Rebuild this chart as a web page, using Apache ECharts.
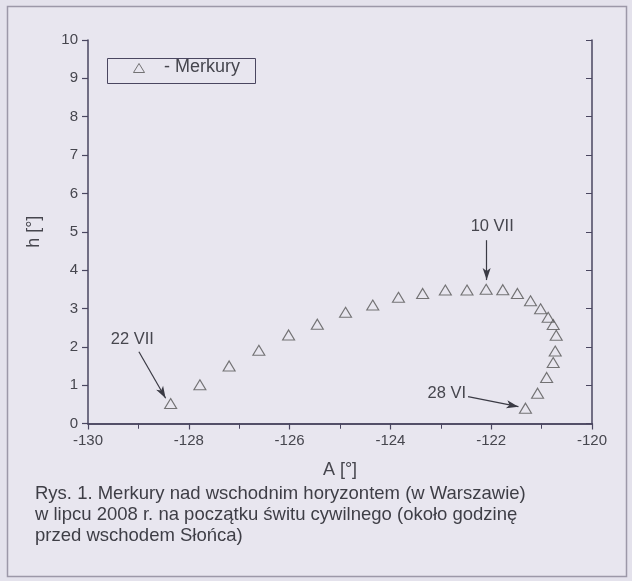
<!DOCTYPE html>
<html>
<head>
<meta charset="utf-8">
<script src="https://cdn.jsdelivr.net/npm/echarts@6/dist/echarts.min.js"></script>
<style>
  html, body { margin: 0; padding: 0; background: #e4e2ec; }
  #chart { width: 632px; height: 581px; }
</style>
</head>
<body>
<div id="chart"></div>
<script>
// Merkury, 28 VI .. 22 VII 2008 (azimuth A, altitude h in degrees)
const azimuth = [-121.32, -121.08, -120.90, -120.77, -120.73, -120.71, -120.77, -120.87, -121.02, -121.22,
    -121.48, -121.77, -122.10, -122.48, -122.91, -123.36, -123.84, -124.35, -124.89, -125.45,
    -126.02, -126.61, -127.20, -127.78, -128.36];
const altitude = [0.40, 0.79, 1.20, 1.59, 1.89, 2.30, 2.58, 2.77, 2.99, 3.20,
    3.39, 3.49, 3.50, 3.48, 3.48, 3.39, 3.29, 3.09, 2.90, 2.59,
    2.31, 1.91, 1.50, 1.01, 0.52];

const xTicks = [-130, -128, -126, -124, -122, -120];
const yTicks = [0, 1, 2, 3, 4, 5, 6, 7, 8, 9, 10];

// date labels and arrows (data coordinates)
const notes = [
    { text: '10 VII', label: [-121.98, 5.13], from: [-122.09, 4.78], to: [-122.09, 3.74] },
    { text: '28 VI', label: [-122.88, 0.78], from: [-122.46, 0.70], to: [-121.46, 0.44] },
    { text: '22 VII', label: [-129.12, 2.18], from: [-128.99, 1.87], to: [-128.46, 0.66] },
];

const axisColor = '#4a4660';
const textColor = '#46464e';
const font = 'Liberation Sans, Arial, sans-serif';

const chart = echarts.init(document.getElementById('chart'));

const points = azimuth.map((a, i) => [a, altitude[i]]);

const option = {
    backgroundColor: '#e4e2ec',
    animation: false,
    textStyle: { fontFamily: font },
    grid: { left: 88, right: 40, top: 40, bottom: 157.5 },
    graphic: [
        {
            type: 'rect', silent: true, z: -10,
            shape: { x: 7.5, y: 6.5, width: 619, height: 570 },
            style: { fill: '#e8e6ef', stroke: '#9c98a8', lineWidth: 1.5 }
        },
        {
            type: 'text', left: 35, top: 484,
            style: {
                text: 'Rys. 1. Merkury nad wschodnim horyzontem (w Warszawie)\n' +
                    'w lipcu 2008 r. na początku świtu cywilnego (około godzinę\n' +
                    'przed wschodem Słońca)',
                font: '18.5px ' + font, fill: '#3e3e46', lineHeight: 20.7
            }
        },
        {
            type: 'rect', left: 105, top: 56, silent: true,
            shape: { width: 148, height: 25 },
            style: { fill: 'none', stroke: axisColor, lineWidth: 1 }
        },
        {
            type: 'text', left: 164, top: 58,
            style: { text: '- Merkury', font: '18px ' + font, fill: textColor }
        }
    ],
    legend: {
        data: [{ name: 'Merkury', icon: 'triangle' }],
        left: 126, top: 56, itemWidth: 11, itemHeight: 9,
        formatter: () => '',
        itemStyle: { color: 'none', borderColor: '#555', borderWidth: 1 }
    },
    xAxis: [
        {
            type: 'value', min: -130, max: -120, interval: 2,
            name: 'A [°]', nameLocation: 'middle', nameGap: 38,
            nameTextStyle: { fontSize: 18, color: textColor },
            axisLine: { lineStyle: { color: axisColor, width: 1.5 } },
            axisTick: { inside: false, length: 6, lineStyle: { color: axisColor, width: 1.2 } },
            minorTick: { show: true, splitNumber: 2, length: 5, lineStyle: { color: axisColor } },
            axisLabel: { fontSize: 15, color: textColor, margin: 10 },
            splitLine: { show: false }
        },
        {
            type: 'value', position: 'top', min: -130, max: -120, interval: 1,
            axisLine: { lineStyle: { color: axisColor, width: 1.5 } },
            axisTick: { inside: true, length: 5, lineStyle: { color: axisColor } },
            axisLabel: { show: false },
            splitLine: { show: false }
        }
    ],
    yAxis: [
        {
            type: 'value', min: 0, max: 10, interval: 1,
            name: 'h [°]', nameLocation: 'middle', nameGap: 45, nameRotate: 90,
            nameTextStyle: { fontSize: 18, color: textColor },
            axisLine: { lineStyle: { color: axisColor, width: 1.5 } },
            axisTick: { inside: false, length: 6, lineStyle: { color: axisColor, width: 1.2 } },
            axisLabel: { fontSize: 15, color: textColor, margin: 10 },
            splitLine: { show: false }
        },
        {
            type: 'value', position: 'right', min: 0, max: 10, interval: 1,
            axisLine: { lineStyle: { color: axisColor, width: 1.5 } },
            axisTick: { inside: true, length: 6, lineStyle: { color: axisColor } },
            axisLabel: { show: false },
            splitLine: { show: false }
        }
    ],
    series: [
        {
            name: 'Merkury',
            type: 'scatter',
            data: points,
            symbol: 'triangle',
            symbolSize: [12, 10],
            itemStyle: { color: 'none', borderColor: '#555', borderWidth: 1.1 },
            markLine: {
                silent: true,
                symbol: ['none', 'arrow'],
                symbolSize: [6, 12],
                label: { show: false },
                lineStyle: { color: '#3a3a44', width: 1.2, type: 'solid' },
                data: notes.map(n => [{ coord: n.from }, { coord: n.to }])
            },
            markPoint: {
                silent: true,
                symbol: 'circle',
                symbolSize: 0,
                label: {
                    show: true, position: 'inside',
                    fontSize: 16.5, color: textColor,
                    formatter: p => p.name
                },
                data: notes.map(n => ({ name: n.text, coord: n.label }))
            }
        }
    ]
};

chart.setOption(option);
</script>
</body>
</html>
